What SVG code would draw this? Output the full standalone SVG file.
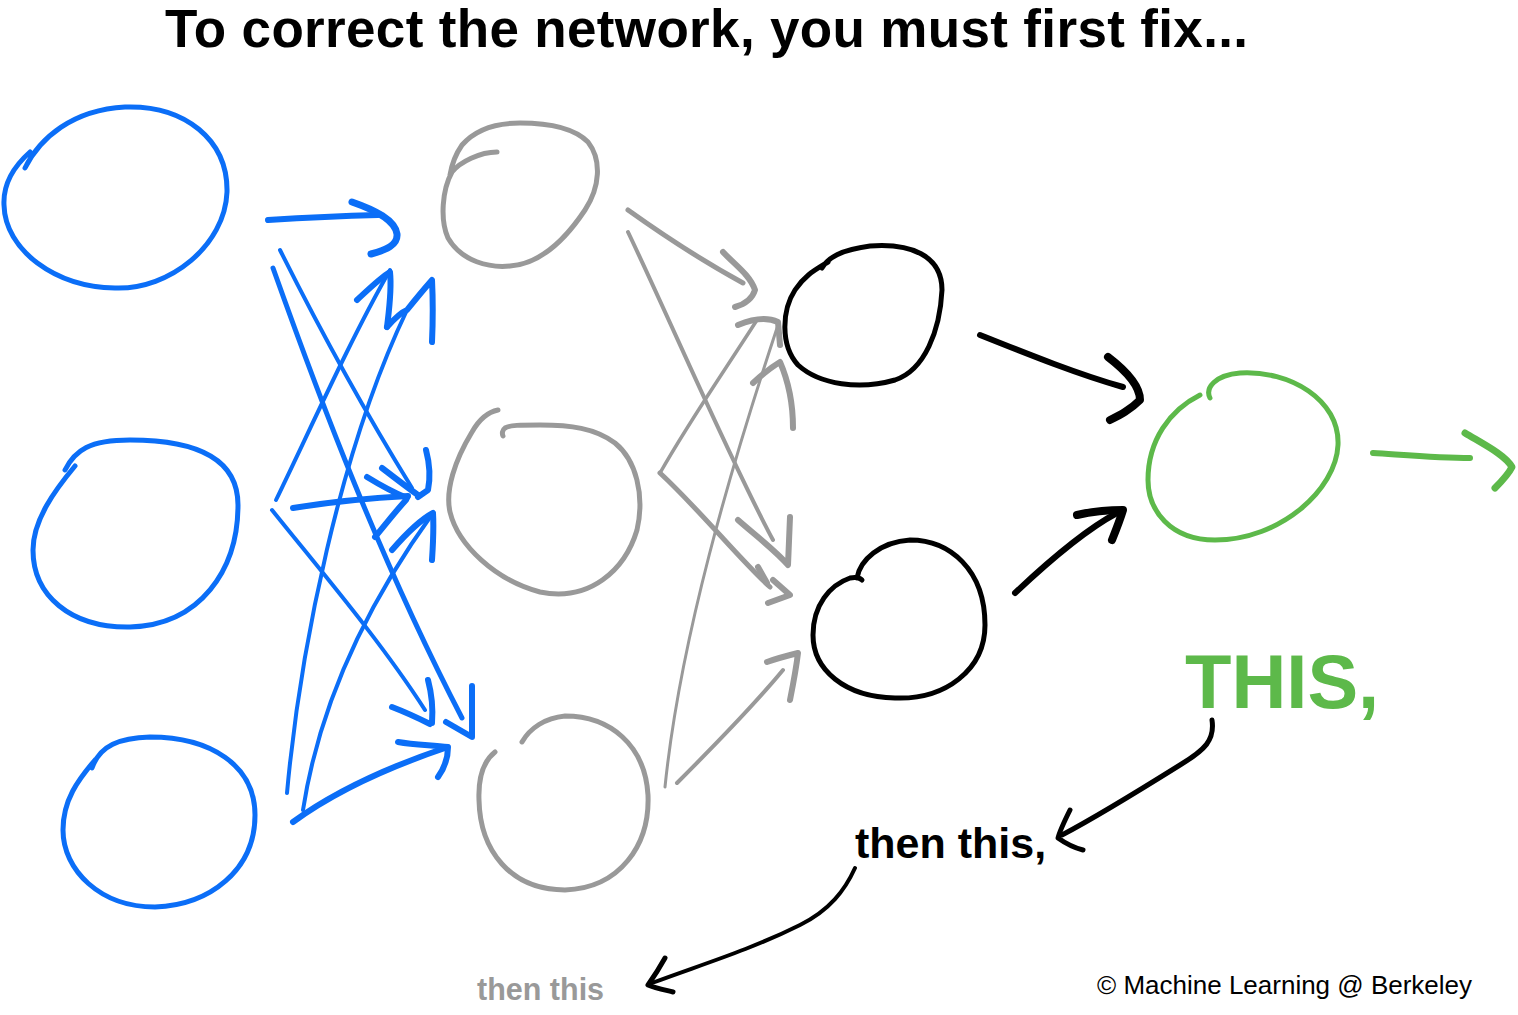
<svg xmlns="http://www.w3.org/2000/svg" width="1518" height="1015" viewBox="0 0 1518 1015">
<style>
path{fill:none;stroke-linecap:round;stroke-linejoin:round}
.b{stroke:#0B6EF7}
.g{stroke:#999}
.k{stroke:#000}
.gr{stroke:#5DB94A}
.node{stroke-width:5}
.t{font-family:"Liberation Sans",Arial,sans-serif;font-weight:bold}
</style>
<rect width="1518" height="1015" fill="#fff"/>
<text class="t" x="165" y="47" font-size="53" textLength="1083" fill="#000">To correct the network, you must first fix...</text>

<g id="input1"><path class="b node" d="M25,168 C40,138 72,110 125,107 C185,105 228,140 227,192 C225,245 170,290 115,288 C55,287 5,250 4,205 C3,185 12,168 30,152"/></g>
<g id="input2"><path class="b node" d="M65,470 C75,450 90,440 130,440 C190,440 238,455 238,505 C238,570 200,625 130,627 C70,628 33,595 33,550 C33,520 55,490 75,466"/></g>
<g id="input3"><path class="b node" d="M92,768 C100,745 120,738 150,737 C210,737 255,765 255,815 C255,870 210,905 155,907 C100,907 63,870 63,830 C63,800 78,780 95,760"/></g>
<g id="hidden1a"><path class="g node" d="M497,152 C480,152 460,162 452,172 C442,190 440,220 448,238 C462,262 490,268 510,266 C540,264 565,240 585,210 C600,187 602,160 588,142 C572,126 545,123 520,123 C495,123 475,130 462,145 C455,155 452,163 450,175"/></g>
<g id="hidden1b"><path class="g node" d="M498,410 C488,412 480,418 472,432 C455,460 445,490 450,512 C458,545 495,580 540,592 C590,602 625,570 637,530 C645,495 636,460 615,443 C595,428 570,425 540,425 C520,425 510,425 505,428 C502,430 502,434 503,436"/></g>
<g id="hidden1c"><path class="g node" d="M522,742 C530,728 545,718 565,716 C610,716 645,745 648,795 C650,845 620,888 565,890 C510,890 480,850 479,800 C478,775 485,760 495,752"/></g>
<g id="hidden2a"><path class="k node" d="M822,268 C828,258 840,250 870,246 C910,243 942,255 942,290 C940,330 925,370 895,380 C860,390 820,385 798,365 C780,345 782,310 795,290 C805,275 815,270 828,262"/></g>
<g id="hidden2b"><path class="k node" d="M857,578 C860,560 880,542 910,540 C950,540 985,570 985,625 C985,670 945,700 895,698 C845,697 813,670 813,635 C813,605 830,585 850,578 C855,577 860,578 862,580"/></g>
<g id="output"><path class="gr node" d="M1210,398 C1205,388 1215,375 1240,373 C1290,370 1340,400 1338,445 C1336,490 1280,540 1215,540 C1170,540 1148,510 1148,480 C1148,440 1170,410 1200,395"/></g>

<g id="connectors">
<path class="b" stroke-width="6" d="M268,220 C300,218 340,216 378,215"/>
<path class="b" stroke-width="7" d="M352,202 C375,210 395,220 397,234 C398,245 386,250 371,254"/>
<path class="b" stroke-width="4" d="M280,250 C320,330 370,420 412,488"/>
<path class="b" stroke-width="6" d="M382,468 C395,478 408,488 418,495 M426,450 C430,465 430,480 428,490 L418,497 M367,477 C380,485 395,493 407,498"/>
<path class="b" stroke-width="5" d="M273,268 C320,400 380,560 462,718"/>
<path class="b" stroke-width="6" d="M472,686 L472,737 L446,722"/>
<path class="b" stroke-width="4" d="M276,500 C310,430 350,340 390,270"/>
<path class="b" stroke-width="6" d="M357,300 C370,288 380,278 390,272 C392,290 389,310 387,327"/>
<path class="b" stroke-width="6" d="M293,508 C330,502 370,498 408,496"/>
<path class="b" stroke-width="4" d="M272,510 C320,570 380,640 425,710"/>
<path class="b" stroke-width="6" d="M392,707 C405,712 418,718 430,724 M428,680 C432,695 433,710 432,723"/>
<path class="b" stroke-width="4" d="M287,793 C300,650 340,450 407,310"/>
<path class="b" stroke-width="6" d="M387,327 C395,318 402,312 407,310 C415,300 425,288 432,280 C433,300 433,320 432,342"/>
<path class="b" stroke-width="4" d="M303,810 C320,700 370,600 433,513"/>
<path class="b" stroke-width="6" d="M392,550 C405,535 420,520 433,513 C434,530 433,545 432,560 M375,537 C385,525 395,512 406,500"/>
<path class="b" stroke-width="6" d="M293,822 C330,795 380,770 445,748"/>
<path class="b" stroke-width="6" d="M398,742 C415,745 432,745 448,747 C448,760 443,770 438,777"/>
<path class="g" stroke-width="5" d="M628,210 C670,240 710,265 743,283"/>
<path class="g" stroke-width="6" d="M723,252 C735,265 750,275 755,290 C752,300 742,305 735,307"/>
<path class="g" stroke-width="4" d="M628,232 C670,320 730,460 773,540"/>
<path class="g" stroke-width="6" d="M738,520 C755,535 775,550 788,565 L790,517"/>
<path class="g" stroke-width="3.5" d="M660,473 C690,420 725,370 757,320"/>
<path class="g" stroke-width="6" d="M738,325 C750,320 765,316 778,322 L780,345"/>
<path class="g" stroke-width="5" d="M660,473 C700,510 740,560 770,587"/>
<path class="g" stroke-width="6" d="M758,567 L767,583 M768,603 L790,595 L773,580"/>
<path class="g" stroke-width="3" d="M665,787 C680,640 730,470 778,325"/>
<path class="g" stroke-width="6" d="M753,383 C765,372 775,365 780,362 C790,385 793,405 793,428"/>
<path class="g" stroke-width="4" d="M677,783 C710,750 750,710 783,670"/>
<path class="g" stroke-width="6" d="M767,662 C778,658 790,655 798,653 C796,670 793,685 790,700"/>
<path class="k" stroke-width="6" d="M980,335 C1030,355 1080,375 1123,387"/>
<path class="k" stroke-width="8" d="M1108,357 C1125,370 1140,385 1140,400 C1130,410 1120,415 1110,420"/>
<path class="k" stroke-width="6" d="M1015,593 C1050,560 1085,530 1117,513"/>
<path class="k" stroke-width="8" d="M1077,515 C1090,512 1110,510 1123,510 C1120,520 1116,530 1112,540"/>
<path class="gr" stroke-width="6" d="M1373,453 C1405,455 1440,458 1470,458"/>
<path class="gr" stroke-width="7" d="M1465,433 C1485,445 1505,455 1512,467 C1508,475 1500,483 1495,488"/>
<path class="k" stroke-width="5" d="M1212,720 C1215,740 1205,750 1180,765 C1140,790 1100,815 1062,835"/>
<path class="k" stroke-width="5" d="M1070,810 C1065,820 1060,830 1058,838 C1065,843 1075,848 1083,850"/>
<path class="k" stroke-width="4" d="M855,868 C845,890 830,910 800,925 C750,950 700,965 652,983"/>
<path class="k" stroke-width="5" d="M665,958 C660,967 655,975 648,985 C655,988 665,990 673,992"/>
</g>

<text class="t" x="1185" y="708" font-size="76" fill="#5DB94A">THIS,</text>
<text class="t" x="855" y="858" font-size="43" fill="#000">then this,</text>
<text class="t" x="477" y="1000" font-size="30.5" fill="#999">then this</text>
<text x="1097" y="994" font-family="Liberation Sans, Arial, sans-serif" font-size="26" fill="#000">© Machine Learning @ Berkeley</text>
</svg>
